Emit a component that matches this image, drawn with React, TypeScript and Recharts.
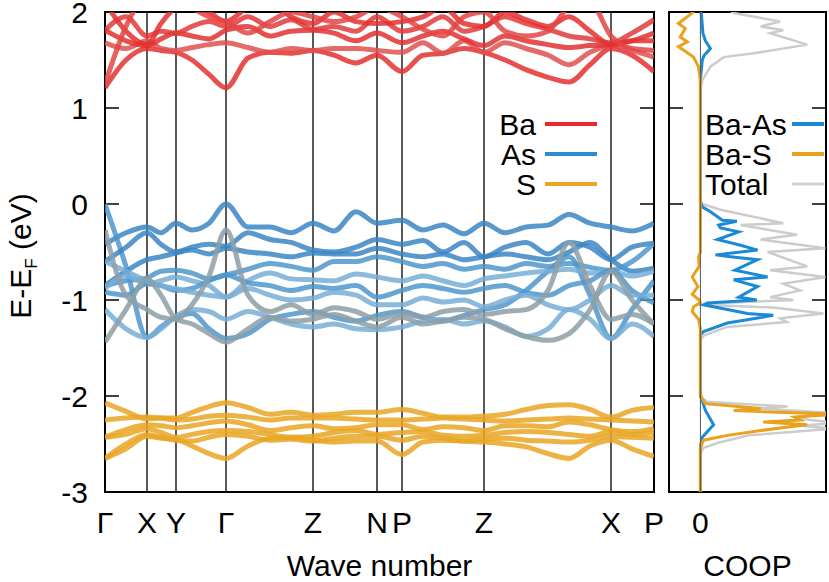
import React from 'react';
import { ComposedChart, Line, XAxis, YAxis, ReferenceLine, ReferenceArea, Legend } from 'recharts';

const FONT = '"Liberation Sans", Arial, Helvetica, sans-serif';

// k-path coordinate (arbitrary path length units)
const kPath = [0, 21, 42, 56, 71, 87, 104, 121, 143, 165, 186, 208, 229, 251, 272, 297, 318, 338, 359, 379, 400, 421, 443, 464, 485, 506, 527, 549];
const kTickPos = [0, 42, 71, 121, 208, 272, 297, 379, 506, 549];
const kTickLabels = ['Γ', 'X', 'Y', 'Γ', 'Z', 'N', 'P', 'Z', 'X', 'P'];
const energyTicks = [2, 1, 0, -1, -2, -3];

// Ba-derived conduction bands (eV)
const baBand1 = [1.21, 1.5, 1.62, 1.6, 1.58, 1.5, 1.35, 1.21, 1.52, 1.58, 1.57, 1.6, 1.55, 1.47, 1.55, 1.38, 1.55, 1.57, 1.62, 1.58, 1.5, 1.4, 1.32, 1.27, 1.45, 1.62, 1.55, 1.38];
const baBand2 = [1.68, 1.62, 1.7, 1.62, 1.6, 1.63, 1.66, 1.68, 1.63, 1.58, 1.62, 1.6, 1.62, 1.62, 1.6, 1.58, 1.68, 1.57, 1.7, 1.58, 1.68, 1.62, 1.55, 1.45, 1.58, 1.65, 1.6, 1.53];
const baBand3 = [1.81, 1.7, 1.65, 1.72, 1.78, 1.75, 1.72, 1.81, 1.85, 1.75, 1.8, 1.81, 1.78, 1.7, 1.78, 1.68, 1.75, 1.8, 1.72, 1.65, 1.75, 1.7, 1.66, 1.63, 1.65, 1.66, 1.7, 1.78];
const baBand4 = [1.81, 1.95, 1.75, 1.8, 1.78, 1.85, 1.9, 1.85, 1.95, 1.85, 1.92, 1.82, 1.85, 1.8, 1.95, 1.8, 1.85, 1.95, 1.8, 1.85, 1.95, 1.88, 1.82, 1.75, 1.72, 1.68, 1.78, 1.92];
const baBand5 = [2.1, 1.8, 1.66, 1.88, 2.05, 2.1, 2.0, 1.9, 2.05, 2.1, 1.95, 1.88, 2.0, 1.9, 1.88, 1.9, 1.95, 2.05, 1.88, 1.85, 2.0, 1.92, 1.85, 1.95, 1.8, 1.66, 1.7, 1.7];
const baBand6 = [1.25, 1.85, 2.2, 2.25, 2.2, 2.05, 1.95, 1.9, 1.78, 1.9, 2.0, 1.95, 1.9, 1.95, 2.05, 1.95, 1.82, 1.75, 1.95, 2.0, 1.8, 1.75, 1.8, 2.05, 2.1, 1.75, 1.62, 1.6];

// As-derived valence bands (eV)
const asBand1 = [-0.42, -0.3, -0.24, -0.3, -0.2, -0.27, -0.2, 0.0, -0.24, -0.24, -0.3, -0.2, -0.28, -0.08, -0.2, -0.17, -0.27, -0.22, -0.31, -0.2, -0.3, -0.24, -0.22, -0.11, -0.2, -0.24, -0.28, -0.2];
const asBand2 = [0.0, -0.65, -1.39, -1.28, -1.18, -1.14, -1.3, -1.4, -1.35, -1.2, -1.15, -1.12, -1.18, -1.22, -1.16, -1.12, -1.18, -1.22, -1.16, -1.1, -1.05, -0.9, -0.7, -0.55, -0.95, -1.4, -1.1, -0.8];
const asBand3 = [-0.6, -0.45, -0.3, -0.42, -0.5, -0.45, -0.42, -0.44, -0.3, -0.37, -0.4, -0.48, -0.5, -0.45, -0.37, -0.42, -0.38, -0.5, -0.4, -0.55, -0.45, -0.4, -0.52, -0.4, -0.45, -0.58, -0.45, -0.41];
const asBand4 = [-0.85, -0.7, -0.58, -0.55, -0.51, -0.48, -0.52, -0.46, -0.5, -0.52, -0.55, -0.51, -0.52, -0.52, -0.46, -0.52, -0.55, -0.52, -0.58, -0.55, -0.52, -0.55, -0.58, -0.5, -0.4, -0.58, -0.7, -0.67];
const asBand5 = [-0.85, -0.8, -0.77, -0.7, -0.69, -0.72, -0.78, -0.74, -0.68, -0.62, -0.65, -0.69, -0.6, -0.6, -0.55, -0.6, -0.65, -0.62, -0.68, -0.65, -0.68, -0.62, -0.65, -0.62, -0.66, -0.69, -0.6, -0.41];
const asBand6 = [-0.88, -0.75, -0.83, -0.8, -0.76, -0.8, -0.85, -0.97, -0.8, -0.72, -0.78, -0.79, -0.8, -0.73, -0.76, -0.8, -0.75, -0.8, -0.85, -0.78, -0.75, -0.72, -0.7, -0.68, -0.72, -0.7, -0.75, -0.7];
const asBand7 = [-0.92, -0.95, -0.83, -0.85, -0.9, -0.88, -0.8, -0.74, -0.82, -0.85, -0.9, -0.86, -0.88, -0.85, -0.97, -0.9, -0.85, -0.88, -0.92, -0.88, -0.85, -0.92, -0.95, -0.85, -0.8, -0.69, -0.9, -1.03];
const asBand8 = [-0.6, -0.7, -0.8, -0.85, -0.88, -0.92, -0.95, -0.97, -0.88, -0.95, -1.0, -0.98, -0.92, -0.95, -1.05, -1.05, -0.98, -1.02, -1.0, -1.07, -1.0, -0.95, -1.05, -1.1, -1.0, -0.85, -0.95, -0.95];
const asBand9 = [-1.1, -1.3, -1.39, -1.3, -1.17, -1.1, -1.12, -1.2, -1.12, -1.18, -1.25, -1.28, -1.25, -1.3, -1.31, -1.28, -1.22, -1.2, -1.25, -1.22, -1.28, -1.38, -1.3, -1.1, -1.2, -1.4, -1.25, -1.38];
const asBand10 = [-0.27, -0.95, -1.1, -1.18, -1.2, -1.05, -0.75, -0.27, -0.95, -1.12, -1.05, -1.15, -1.08, -1.12, -1.2, -1.14, -1.18, -1.12, -1.1, -1.15, -1.12, -1.1, -0.9, -0.4, -0.85, -1.2, -1.15, -1.25];
const asBand11 = [-1.44, -1.1, -0.78, -0.95, -1.2, -1.25, -1.35, -1.44, -1.3, -1.18, -1.22, -1.2, -1.15, -1.22, -1.28, -1.18, -1.25, -1.22, -1.18, -1.2, -1.3, -1.38, -1.42, -1.35, -1.1, -0.7, -1.0, -1.25];

// S-derived valence bands (eV)
const sBand1 = [-2.07, -2.16, -2.24, -2.23, -2.23, -2.17, -2.11, -2.07, -2.12, -2.19, -2.17, -2.2, -2.19, -2.17, -2.17, -2.14, -2.18, -2.22, -2.22, -2.21, -2.19, -2.14, -2.1, -2.09, -2.14, -2.22, -2.15, -2.12];
const sBand2 = [-2.25, -2.23, -2.22, -2.23, -2.25, -2.24, -2.21, -2.2, -2.22, -2.25, -2.23, -2.23, -2.23, -2.24, -2.25, -2.25, -2.24, -2.23, -2.24, -2.25, -2.26, -2.25, -2.24, -2.23, -2.24, -2.25, -2.26, -2.27];
const sBand3 = [-2.43, -2.35, -2.3, -2.31, -2.33, -2.31, -2.28, -2.26, -2.3, -2.36, -2.33, -2.31, -2.34, -2.33, -2.3, -2.3, -2.35, -2.32, -2.33, -2.36, -2.31, -2.31, -2.32, -2.27, -2.3, -2.35, -2.37, -2.34];
const sBand4 = [-2.43, -2.4, -2.34, -2.38, -2.43, -2.4, -2.37, -2.36, -2.37, -2.4, -2.43, -2.42, -2.38, -2.36, -2.4, -2.38, -2.37, -2.41, -2.42, -2.41, -2.38, -2.37, -2.38, -2.4, -2.42, -2.37, -2.4, -2.38];
const sBand5 = [-2.65, -2.5, -2.4, -2.43, -2.46, -2.47, -2.43, -2.4, -2.42, -2.46, -2.45, -2.47, -2.44, -2.42, -2.42, -2.46, -2.42, -2.44, -2.47, -2.45, -2.44, -2.46, -2.47, -2.48, -2.46, -2.42, -2.43, -2.44];
const sBand6 = [-2.65, -2.55, -2.42, -2.44, -2.45, -2.52, -2.6, -2.65, -2.52, -2.44, -2.43, -2.46, -2.48, -2.47, -2.47, -2.61, -2.48, -2.46, -2.47, -2.48, -2.5, -2.53, -2.6, -2.65, -2.52, -2.46, -2.55, -2.63];

// COOP curves: [energy (eV), COOP]
const coopTotal: [number, number][] = [
  [2.05, 0.4], [1.99, 0.53], [1.9, 1.27], [1.85, 0.96], [1.81, 1.32], [1.78, 1.11], [1.66, 1.7], [1.57, 0.85], [1.53, 0.37], [1.43, 0.16], [1.29, 0.03], [1.2, 0],
  [0.05, 0], [0.0, 0.03], [-0.06, 0.32], [-0.2, 1.32], [-0.22, 0.64], [-0.32, 1.54], [-0.37, 0.96], [-0.46, 1.99], [-0.5, 1.07], [-0.65, 1.7], [-0.69, 1.11], [-0.76, 1.99],
  [-0.83, 1.32], [-0.9, 1.59], [-0.97, 1.11], [-1.0, 1.48], [-1.03, 0.3], [-1.05, 0.08], [-1.08, 1.2], [-1.14, 1.96], [-1.19, 1.27], [-1.23, 1.38], [-1.28, 0.43], [-1.37, 0.05], [-1.42, 0],
  [-1.98, 0], [-2.02, 0.03], [-2.06, 0.1], [-2.11, 1.39], [-2.13, 0.9], [-2.18, 2.2], [-2.22, 1.5], [-2.25, 1.75], [-2.28, 2.2], [-2.31, 1.6], [-2.34, 2.1], [-2.41, 0.77], [-2.49, 0.27], [-2.54, 0.05], [-2.6, 0], [-3.05, 0],
];
const coopBaAs: [number, number][] = [
  [2.05, 0.0], [1.95, 0.02], [1.78, 0.04], [1.7, 0.08], [1.62, 0.16], [1.55, 0.06], [1.5, 0.03], [1.3, 0.0],
  [0.02, 0], [-0.03, 0.03], [-0.08, 0.16], [-0.17, 0.35], [-0.18, 0.58], [-0.22, 0.29], [-0.25, 0.32], [-0.29, 0.61], [-0.37, 0.27], [-0.43, 0.64], [-0.48, 0.91], [-0.53, 0.24],
  [-0.55, 0.48], [-0.58, 0.91], [-0.69, 0.55], [-0.76, 1.07], [-0.79, 0.53], [-0.86, 0.91], [-0.97, 0.61], [-1.0, 0.9], [-1.03, 0.11], [-1.05, 0.05], [-1.14, 0.75], [-1.16, 1.16],
  [-1.24, 0.43], [-1.33, 0.05], [-1.36, 0], [-2.0, 0], [-2.05, 0.03], [-2.15, 0.08], [-2.3, 0.21], [-2.43, 0.03], [-2.54, 0], [-3.05, 0],
];
const coopBaS: [number, number][] = [
  [2.05, -0.05], [1.99, -0.13], [1.88, -0.35], [1.83, -0.24], [1.74, -0.32], [1.69, -0.21], [1.64, -0.35], [1.53, -0.11], [1.43, -0.03], [1.29, 0],
  [-0.5, 0], [-0.55, -0.03], [-0.65, -0.02], [-0.76, -0.13], [-0.86, -0.04], [-0.94, -0.13], [-1.0, -0.02], [-1.03, 0.0], [-1.07, -0.11], [-1.12, -0.13], [-1.2, -0.03], [-1.3, 0],
  [-1.98, 0], [-2.02, 0.02], [-2.08, 0.08], [-2.13, 0.96], [-2.15, 0.53], [-2.16, 0.85], [-2.19, 2.2], [-2.22, 1.5], [-2.25, 1.59], [-2.27, 1.0], [-2.3, 1.7], [-2.33, 1.3],
  [-2.36, 0.96], [-2.41, 0.43], [-2.46, 0.05], [-2.54, 0], [-3.05, 0],
];

const bandLegend = [
  { name: 'Ba', color: '#e8282b' },
  { name: 'As', color: '#2f8bd0' },
  { name: 'S', color: '#eaa524' },
];
const coopLegend = [
  { name: 'Ba-As', color: '#1b8ad6', width: 4 },
  { name: 'Ba-S', color: '#eaa21c', width: 4 },
  { name: 'Total', color: '#cfcfcf', width: 3 },
];

const RED = '#e43030';
const BLUE_D = '#3b86c4';
const BLUE_M = '#5097cc';
const BLUE_L = '#78aed6';
const GRAYB = '#8d9fa6';
const ORANGE = '#e9a623';

const bands = [
  { v: baBand1, c: RED }, { v: baBand2, c: '#e05050' }, { v: baBand3, c: RED },
  { v: baBand4, c: '#e23a3a' }, { v: baBand5, c: RED }, { v: baBand6, c: '#e44444' },
  { v: asBand1, c: BLUE_D }, { v: asBand2, c: BLUE_M }, { v: asBand3, c: BLUE_D },
  { v: asBand4, c: BLUE_D }, { v: asBand5, c: BLUE_M }, { v: asBand6, c: BLUE_L },
  { v: asBand7, c: BLUE_M }, { v: asBand8, c: BLUE_L }, { v: asBand9, c: BLUE_L },
  { v: asBand10, c: GRAYB }, { v: asBand11, c: GRAYB },
  { v: sBand1, c: ORANGE }, { v: sBand2, c: ORANGE }, { v: sBand3, c: ORANGE },
  { v: sBand4, c: ORANGE }, { v: sBand5, c: ORANGE }, { v: sBand6, c: ORANGE },
];

const bandData = kPath.map((k, i) => {
  const row: Record<string, number> = { k };
  bands.forEach((b, j) => { row['b' + j] = b.v[i]; });
  return row;
});

const toRows = (arr: [number, number][]) => arr.map(([e, v]) => ({ e, v }));
const totalRows = toRows(coopTotal);
const baAsRows = toRows(coopBaAs);
const baSRows = toRows(coopBaS);

const tickStyle = { fill: '#000', fontSize: 30, fontFamily: FONT };

const YLabel = () => (
  <text x={31} y={256} transform="rotate(-90, 31, 256)" textAnchor="middle" fontSize={30} fontFamily={FONT} fill="#000">
    E-E<tspan fontSize={17} dy={6}>F</tspan><tspan dy={-6}> (eV)</tspan>
  </text>
);

const LegendBox = ({ items, textX, anchor, lineX1, lineX2, w }: any) => (
  <svg width={w} height={100} style={{ display: 'block', overflow: 'visible' }}>
    {items.map((it: any, i: number) => (
      <g key={it.name}>
        <text x={textX} y={24 + i * 30 + 10.5} textAnchor={anchor} fontSize={30} fontFamily={FONT} fill="#000">{it.name}</text>
        <line x1={lineX1} x2={lineX2} y1={24 + i * 30} y2={24 + i * 30} stroke={it.color} strokeWidth={it.width || 4} />
      </g>
    ))}
  </svg>
);

const innerTicks = energyTicks.slice(1, 5);

export default function App() {
  return (
    <div style={{ position: 'absolute', left: 0, top: 0, width: 829, height: 582, background: '#fff', fontFamily: FONT }}>
      <div style={{ position: 'absolute', left: 0, top: 0 }}>
        <ComposedChart width={680} height={582} data={bandData} margin={{ top: 12, right: 26, bottom: 0, left: 0 }}>
          <XAxis
            type="number" dataKey="k" domain={[0, 549]} ticks={kTickPos} interval={0} allowDataOverflow
            tickFormatter={(v: number) => kTickLabels[kTickPos.indexOf(v)] ?? ''}
            tickLine={false} tickSize={0} tickMargin={20} axisLine={false} height={90} tick={tickStyle}
            label={{ value: 'Wave number', position: 'insideBottom', offset: 6, fill: '#000', fontSize: 30, fontFamily: FONT }}
          />
          <YAxis
            type="number" domain={[-3, 2]} ticks={energyTicks} interval={0} allowDataOverflow width={105}
            tickLine={false} tickSize={0} tickMargin={17} axisLine={false} tick={tickStyle}
            label={<YLabel />}
          />
          {kTickPos.slice(1, 9).map((x) => (
            <ReferenceLine key={'v' + x} x={x} stroke="#000" strokeWidth={1.3} />
          ))}
          {innerTicks.map((y) => (
            <ReferenceLine key={'tl' + y} segment={[{ x: 0, y }, { x: 14, y }]} stroke="#000" strokeWidth={1.5} />
          ))}
          {innerTicks.map((y) => (
            <ReferenceLine key={'tr' + y} segment={[{ x: 535, y }, { x: 549, y }]} stroke="#000" strokeWidth={1.5} />
          ))}
          {bands.map((b, j) => (
            <Line
              key={'b' + j} dataKey={'b' + j} type="monotone" stroke={b.c} strokeWidth={5} strokeOpacity={0.85}
              dot={false} activeDot={false} isAnimationActive={false} legendType="none"
            />
          ))}
          <ReferenceArea x1={0} x2={549} y1={-3} y2={2} fill="none" stroke="#000" strokeWidth={2} />
          <Legend
            layout="horizontal" verticalAlign="middle" align="center"
            wrapperStyle={{ position: 'absolute', left: 470, top: 100, width: 140, height: 100 }}
            content={() => <LegendBox items={bandLegend} textX={66} anchor="end" lineX1={75} lineX2={127} w={140} />}
          />
        </ComposedChart>
      </div>
      <div style={{ position: 'absolute', left: 660, top: 0 }}>
        <ComposedChart layout="vertical" width={169} height={582} margin={{ top: 12, right: 3, bottom: 0, left: 9 }}>
          <XAxis
            type="number" domain={[-0.5, 2]} ticks={[0]} interval={0} allowDataOverflow
            tickLine={false} tickSize={0} tickMargin={20} axisLine={false} height={90} tick={tickStyle}
            label={{ value: 'COOP', position: 'insideBottom', offset: 6, fill: '#000', fontSize: 30, fontFamily: FONT }}
          />
          <YAxis type="number" dataKey="e" domain={[-3, 2]} allowDataOverflow hide reversed />
          {innerTicks.map((y) => (
            <ReferenceLine key={'cl' + y} segment={[{ x: -0.5, y }, { x: -0.277, y }]} stroke="#000" strokeWidth={1.5} />
          ))}
          {innerTicks.map((y) => (
            <ReferenceLine key={'cr' + y} segment={[{ x: 1.777, y }, { x: 2, y }]} stroke="#000" strokeWidth={1.5} />
          ))}
          <Line data={totalRows} dataKey="v" type="linear" stroke="#cccccc" strokeWidth={2.5} dot={false} activeDot={false} isAnimationActive={false} legendType="none" />
          <Line data={baAsRows} dataKey="v" type="linear" stroke="#1b8ad6" strokeWidth={3} dot={false} activeDot={false} isAnimationActive={false} legendType="none" />
          <Line data={baSRows} dataKey="v" type="linear" stroke="#eaa21c" strokeWidth={3} dot={false} activeDot={false} isAnimationActive={false} legendType="none" />
          <ReferenceLine x={0} stroke="#555" strokeWidth={1} />
          <ReferenceArea x1={-0.5} x2={2} y1={-3} y2={2} fill="none" stroke="#000" strokeWidth={2} />
          <Legend
            layout="horizontal" verticalAlign="middle" align="center"
            wrapperStyle={{ position: 'absolute', left: 40, top: 100, width: 130, height: 100 }}
            content={() => <LegendBox items={coopLegend} textX={5} anchor="start" lineX1={92} lineX2={124} w={130} />}
          />
        </ComposedChart>
      </div>
    </div>
  );
}
